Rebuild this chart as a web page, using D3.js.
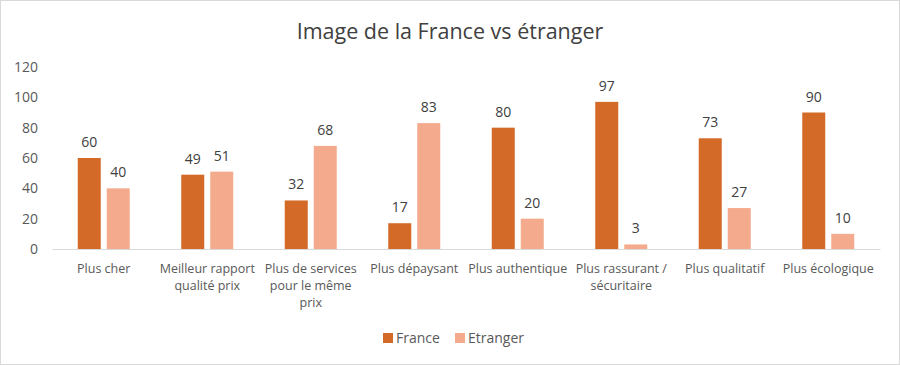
<!DOCTYPE html>
<html><head><meta charset="utf-8">
<script src="https://cdn.jsdelivr.net/npm/d3@7"></script>
<style>
html,body{margin:0;padding:0;background:#fff;}
svg{display:block;font-family:"Open Sans",Lato,sans-serif;}
</style></head>
<body><svg id="c" width="900" height="365"></svg>
<script>
const categories = [["Plus cher"],["Meilleur rapport","qualité prix"],["Plus de services","pour le même","prix"],["Plus dépaysant"],["Plus authentique"],["Plus rassurant /","sécuritaire"],["Plus qualitatif"],["Plus écologique"]];
const seriesNames = ["France","Etranger"];
const france = [60,49,32,17,80,97,73,90];
const etranger = [40,51,68,83,20,3,27,10];
const yTicks = [0,20,40,60,80,100,120];
const colors = ["#D46A27","#F4AA8C"];

const svg = d3.select("#c");
svg.append("rect").attr("x",0.5).attr("y",0.5).attr("width",899).attr("height",364)
  .attr("fill","#fff").attr("stroke","#d9d9d9");

const m = {l:52, r:880, t:67, b:249};
const x = d3.scaleBand().domain(d3.range(categories.length)).range([m.l,m.r]);
const y = d3.scaleLinear().domain([0,120]).range([m.b,m.t]);
const barW = 23, gap = 6;
const xs = d3.scaleOrdinal().domain([0,1]).range([-(barW+gap/2), gap/2]);

svg.append("text").attr("x",450).attr("y",39).attr("text-anchor","middle")
  .attr("font-size",21.5).attr("fill","#404040").text("Image de la France vs étranger");

// y axis
const yAxis = d3.axisLeft(y).tickValues(yTicks).tickSize(0).tickPadding(14);
const ga = svg.append("g").attr("transform",`translate(${m.l},0)`).call(yAxis);
ga.select(".domain").remove();
ga.selectAll("text").attr("font-size",14).attr("fill","#595959").attr("font-family","'Open Sans',sans-serif");

// x axis
const xAxis = d3.axisBottom(x).tickSize(0).tickFormat("");
const gx = svg.append("g").attr("transform",`translate(0,${m.b})`).call(xAxis);
gx.select(".domain").attr("stroke","#d9d9d9");

const labels = svg.append("g");
categories.forEach((lines,i)=>{
  const t = labels.append("text").attr("x",x(i)+x.bandwidth()/2).attr("y",273)
    .attr("text-anchor","middle").attr("font-size",12.5).attr("fill","#595959");
  lines.forEach((ln,j)=>t.append("tspan").attr("x",x(i)+x.bandwidth()/2).attr("dy",j?17:0).text(ln));
});

const series = [france, etranger];
series.forEach((vals,s)=>{
  const g = svg.append("g");
  g.selectAll("rect").data(vals).join("rect")
    .attr("x",(d,i)=>x(i)+x.bandwidth()/2+xs(s))
    .attr("y",d=>y(d)).attr("width",barW).attr("height",d=>y(0)-y(d))
    .attr("fill",colors[s]);
  g.selectAll("text").data(vals).join("text")
    .attr("x",(d,i)=>x(i)+x.bandwidth()/2+xs(s)+barW/2)
    .attr("y",d=>y(d)-11).attr("text-anchor","middle")
    .attr("font-size",14).attr("fill","#404040").text(d=>d);
});

// legend
const leg = svg.append("g");
const legX = [383, 455];
seriesNames.forEach((n,i)=>{
  leg.append("rect").attr("x",legX[i]).attr("y",333).attr("width",10).attr("height",10).attr("fill",colors[i]);
  leg.append("text").attr("x",legX[i]+13).attr("y",343).attr("font-size",14).attr("fill","#595959").text(n);
});
</script></body></html>
